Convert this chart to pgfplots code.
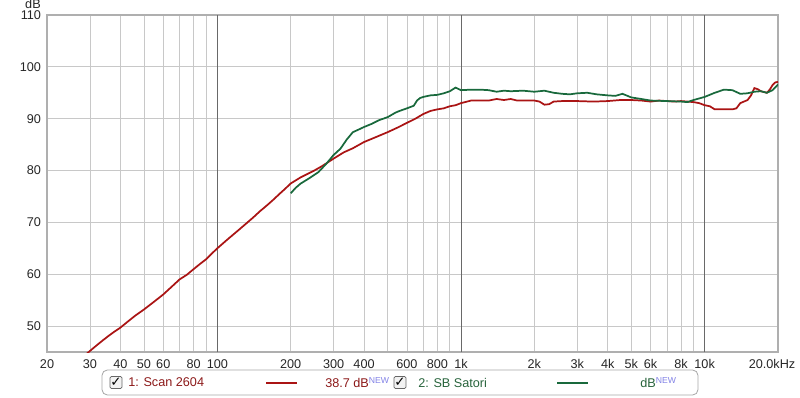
\documentclass[border=0pt]{standalone}
\usepackage{pgfplots}
\pgfplotsset{compat=1.18}
\usepackage{fontspec}
\setmainfont{Liberation Sans}
\newfontfamily\symfont{DejaVu Sans}
\definecolor{redline}{RGB}{170,20,20}
\definecolor{greenline}{RGB}{25,105,60}
\definecolor{redtext}{RGB}{140,25,25}
\definecolor{greentext}{RGB}{40,100,60}
\definecolor{newblue}{RGB}{130,130,230}
\definecolor{gridc}{RGB}{200,200,200}
\definecolor{decc}{RGB}{105,105,105}
\definecolor{framec}{RGB}{175,175,175}
\begin{document}
\begin{tikzpicture}[x=0.75pt,y=0.75pt]
\useasboundingbox (0,0) rectangle (800,397);
\begin{axis}[
  at={(47pt*0.75,45pt*0.75)}, anchor=south west,
  scale only axis, width=548.25pt, height=252.75pt,
  xmode=log, xmin=20, xmax=20000, ymin=45, ymax=110,
  axis line style={draw=framec, line width=1.8pt},
  xtick={20,30,40,50,60,80,200,300,400,600,800,2000,3000,4000,5000,6000,8000,20000},
  xticklabels={20,30,40,50,60,80,200,300,400,600,800,2k,3k,4k,5k,6k,8k,\hspace*{-9pt}20.0kHz},
  extra x ticks={100,1000,10000},
  extra x tick labels={100,1k,10k},
  extra x tick style={major grid style={draw=decc, line width=0.6pt}},
  minor xtick={70,90,500,700,900,7000,9000},
  ytick={50,60,70,80,90,100,110},
  grid=both,
  major grid style={draw=gridc, line width=0.6pt},
  minor grid style={draw=gridc, line width=0.6pt},
  major tick length=0pt, minor tick length=0pt,
  log ticks with fixed point,
  tick label style={font=\fontsize{9.5}{11}\selectfont, text=black!85},
  /pgf/number format/assume math mode=true,
  xticklabel style={yshift=-2pt},
  yticklabel style={xshift=-1pt},
]
\addplot[redline, line width=1.3pt] coordinates {
(29,44.6)(30,45.2)(32,46.3)(34,47.3)(36,48.2)(38,49.0)(40,49.7)(43,50.9)(46,52.0)(50,53.2)
(55,54.7)(60,56.1)(65,57.6)(70,59.0)(75,59.9)(80,61.0)(85,62.0)(90,62.9)(95,64.0)(100,65.0)
(110,66.7)(120,68.2)(130,69.6)(140,70.9)(150,72.2)(160,73.3)(170,74.4)(180,75.5)(190,76.5)(200,77.5)
(220,78.7)(250,80.0)(270,80.9)(300,82.3)(330,83.5)(360,84.3)(400,85.5)(450,86.5)(500,87.4)(550,88.3)
(600,89.2)(650,90.0)(700,90.9)(750,91.5)(800,91.8)(850,92.0)(900,92.4)(950,92.6)(1000,93.0)(1100,93.5)
(1200,93.5)(1300,93.5)(1400,93.8)(1500,93.6)(1600,93.8)(1700,93.5)(1800,93.5)(2000,93.5)(2100,93.3)(2200,92.7)
(2300,92.8)(2400,93.3)(2600,93.4)(3000,93.4)(3500,93.3)(4000,93.4)(4500,93.6)(5000,93.6)(5500,93.5)(6000,93.3)
(6500,93.5)(7000,93.4)(7500,93.3)(8000,93.4)(8500,93.3)(9000,93.2)(9500,93.0)(10000,92.6)(10500,92.4)(11000,91.8)
(12000,91.8)(13000,91.8)(13500,92.0)(14000,93.0)(15000,93.6)(15500,94.5)(16000,95.9)(16500,95.7)(17000,95.3)(18000,95.0)
(18500,95.6)(19000,96.5)(19500,97.0)(20000,97.1)};
\addplot[greenline, line width=1.3pt] coordinates {
(200,75.6)(210,76.7)(220,77.5)(240,78.6)(260,79.7)(280,81.3)(300,83.0)(320,84.2)(340,86.0)(360,87.4)
(380,87.9)(400,88.4)(430,89.0)(460,89.7)(500,90.3)(540,91.2)(560,91.5)(600,92.0)(640,92.5)(660,93.5)
(680,94.0)(700,94.2)(750,94.5)(800,94.6)(850,94.9)(900,95.3)(950,96.0)(1000,95.5)(1100,95.6)(1200,95.6)
(1300,95.5)(1400,95.2)(1500,95.4)(1600,95.3)(1800,95.4)(2000,95.2)(2200,95.4)(2400,95.0)(2600,94.8)(2800,94.7)
(3000,94.9)(3300,95.0)(3600,94.7)(4000,94.5)(4300,94.4)(4600,94.8)(5000,94.1)(5500,93.8)(6000,93.5)(7000,93.4)
(8000,93.3)(8500,93.2)(9000,93.6)(10000,94.2)(11000,95.0)(12000,95.6)(13000,95.5)(14000,94.8)(15000,94.9)(16000,95.2)
(17000,95.3)(18000,95.0)(19000,95.5)(20000,96.6)};
\end{axis}
% dB unit label
\node[anchor=south east, font=\fontsize{9.5}{11}\selectfont, text=black!85, inner sep=0pt] at (41,388) {dB};
% legend box
\draw[draw=gray!70, rounded corners=4pt, line width=0.6pt] (102,27) rectangle (698,2);
\foreach \cx in {116,400}{
  \draw[draw=gray!80!black, fill=gray!10, line width=0.5pt, rounded corners=1pt] (\cx-6,20.5) rectangle (\cx+6,8.5);
  \node[font=\symfont\fontsize{10}{11}\selectfont, inner sep=0pt] at (\cx,14.5) {✓};
}
\node[anchor=west, font=\fontsize{9.5}{11}\selectfont, text=redtext, inner sep=0pt] at (128,14.5) {1: Scan 2604};
\draw[redline, line width=1.5pt] (266,14.5) -- (297,14.5);
\node[anchor=west, font=\fontsize{9.5}{11}\selectfont, text=redtext, inner sep=0pt] at (325,14.5) {38.7 dB\raisebox{0.6ex}{\textcolor{newblue}{\fontsize{6.5}{7}\selectfont NEW}}};
\node[anchor=west, font=\fontsize{9.5}{11}\selectfont, text=greentext, inner sep=0pt] at (418,14.5) {2: SB Satori};
\draw[greenline, line width=1.5pt] (557,14.5) -- (588,14.5);
\node[anchor=west, font=\fontsize{9.5}{11}\selectfont, text=greentext, inner sep=0pt] at (640,14.5) {dB\raisebox{0.6ex}{\textcolor{newblue}{\fontsize{6.5}{7}\selectfont NEW}}};
\end{tikzpicture}
\end{document}
